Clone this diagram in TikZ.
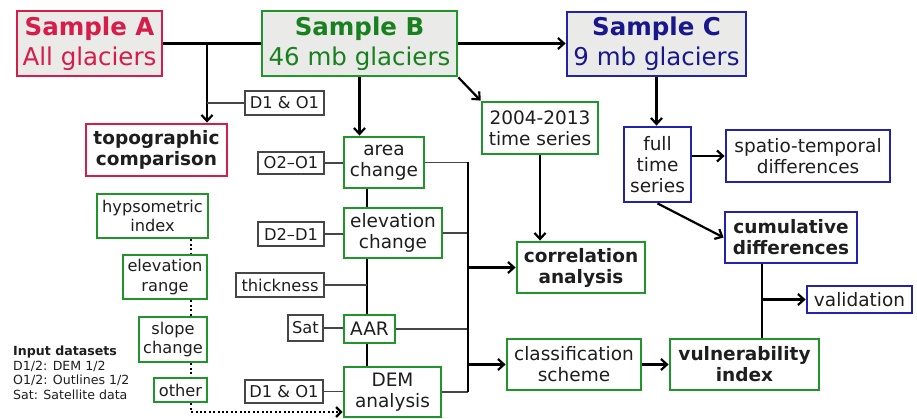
\documentclass[tikz,border=0pt]{standalone}
\usepackage{fontspec}
\setmainfont{DejaVu Sans}
\usetikzlibrary{arrows.meta}

\definecolor{sampred}{RGB}{214,28,72}
\definecolor{sampgreen}{RGB}{32,150,42}
\definecolor{sampgreentext}{RGB}{24,128,30}
\definecolor{sampblue}{RGB}{34,34,170}
\definecolor{sampbluetext}{RGB}{24,24,140}
\definecolor{titlegray}{RGB}{234,234,232}
\definecolor{datagray}{RGB}{70,70,70}
\definecolor{textgray}{RGB}{30,30,30}

\tikzset{
  box/.style={draw, line width=2.8pt, fill=white, inner sep=0pt, align=center,
    text=textgray, font=\fontsize{18.5}{21}\selectfont},
  redbox/.style={box, draw=sampred},
  greenbox/.style={box, draw=sampgreen},
  bluebox/.style={box, draw=sampblue},
  smallbox/.style={greenbox, font=\fontsize{16.2}{19.5}\selectfont},
  databox/.style={box, draw=datagray, line width=1.6pt, font=\fontsize{16.3}{19.5}\selectfont},
  titlebox/.style={fill=titlegray, font=\fontsize{24.5}{30}\selectfont},
  link/.style={line width=2.2pt, draw=black},
  thinlink/.style={line width=1.5pt, draw=datagray},
  arrow/.style={link, -{Straight Barb[length=6pt,width=11pt]}},
  dots/.style={line width=2.2pt, dash pattern=on 2pt off 2.4pt},
}

\begin{document}
\begin{tikzpicture}[x=1pt, y=-1pt]
    \useasboundingbox (0,0) rectangle (917,419);

    % the three samples
    \node[redbox, titlebox, text=sampred, minimum width=145pt, minimum height=65pt] (sampleA) at (89.5,43.5) {\textbf{Sample A}\\All glaciers};
    \node[greenbox, titlebox, text=sampgreentext, minimum width=195pt, minimum height=65pt] (sampleB) at (359.5,43.5) {\textbf{Sample B}\\46 mb glaciers};
    \node[bluebox, titlebox, text=sampbluetext, minimum width=179pt, minimum height=64pt] (sampleC) at (656.5,44) {\textbf{Sample C}\\9 mb glaciers};

    % sample A branch
    \node[redbox, minimum width=141pt, minimum height=52pt] (topo) at (156.5,150) {\textbf{topographic}\\\textbf{comparison}};
    \node[databox, minimum width=79pt, minimum height=24pt] (d1o1a) at (284.5,103) {D1 \& O1};

    % sample B parameters
    \node[greenbox, minimum width=80pt, minimum height=51pt] (area) at (384,162.5) {area\\change};
    \node[greenbox, minimum width=98pt, minimum height=50pt] (elev) at (393,233) {elevation\\change};
    \node[greenbox, minimum width=51pt, minimum height=28pt] (aar) at (369.5,329) {AAR};
    \node[greenbox, minimum width=97pt, minimum height=50pt] (dem) at (392.5,392) {DEM\\analysis};
    \node[greenbox, minimum width=116pt, minimum height=52pt] (ts0413) at (540,128) {2004-2013\\time series};

    % input data
    \node[databox, minimum width=66pt, minimum height=22pt] (o2o1) at (291,163) {O2–O1};
    \node[databox, minimum width=66pt, minimum height=24pt] (d2d1) at (291,234) {D2–D1};
    \node[databox, minimum width=88pt, minimum height=24pt] (thick) at (280,285) {thickness};
    \node[databox, minimum width=35pt, minimum height=26pt] (sat) at (305.5,328) {Sat};
    \node[databox, minimum width=78pt, minimum height=23pt] (d1o1b) at (284,391.5) {D1 \& O1};

    % DEM analysis outputs
    \node[smallbox, minimum width=111pt, minimum height=44pt] (hyps) at (152.5,216) {hypsometric\\index};
    \node[smallbox, minimum width=84pt, minimum height=44pt] (elrange) at (165,277) {elevation\\range};
    \node[smallbox, minimum width=68pt, minimum height=45pt] (slope) at (173,339.5) {slope\\change};
    \node[smallbox, minimum width=53pt, minimum height=24pt] (other) at (180.5,390) {other};

    % results
    \node[greenbox, minimum width=128pt, minimum height=51pt] (corr) at (581,267.5) {\textbf{correlation}\\\textbf{analysis}};
    \node[greenbox, minimum width=134pt, minimum height=51pt] (class) at (574,364.5) {classification\\scheme};
    \node[greenbox, minimum width=149pt, minimum height=51pt] (vuln) at (744.5,364.5) {\textbf{vulnerability}\\\textbf{index}};

    % sample C branch
    \node[bluebox, minimum width=67pt, minimum height=75pt] (fullts) at (657.5,164.5) {full\\time\\series};
    \node[bluebox, minimum width=164pt, minimum height=52pt] (spatio) at (808,156) {spatio-temporal\\differences};
    \node[bluebox, minimum width=132pt, minimum height=51pt] (cumul) at (791,237.5) {\textbf{cumulative}\\\textbf{differences}};
    \node[bluebox, minimum width=105pt, minimum height=27pt] (valid) at (859.5,299.5) {validation};

    % legend
    \node[anchor=north west, align=left, inner sep=0pt, text=textgray, font=\fontsize{12.6}{14.6}\selectfont] (legend) at (13,346) {\textbf{Input datasets}\\D1/2: DEM 1/2\\O1/2: Outlines 1/2\\Sat: Satellite data};

    % junctions
    \coordinate (jA) at (207,43.5);
    \coordinate (bus) at (468,162.5);
    \coordinate (jL) at (367,285);
    \coordinate (jC) at (762,299.5);
    \coordinate (jD) at (191,412);

    % sample connectors
    \draw[link] (sampleA) -- (sampleB);
    \draw[arrow] (jA) -- (jA |- topo.north);
    \draw[thinlink] (jA |- d1o1a) -- (d1o1a.west);
    \draw[arrow] (sampleB.east) -- (sampleB.east -| sampleC.west);
    \draw[arrow] (sampleB.south) -- (sampleB.south |- area.north);
    \draw[arrow] (sampleB.south east) -- (ts0413.north west);
    \draw[arrow] (ts0413.south) -- (ts0413.south |- corr.north);
    \draw[arrow] (sampleC.south) -- (sampleC.south |- fullts.north);
    \draw[arrow] (fullts.east |- spatio.west) -- (spatio.west);
    \draw[arrow] (fullts.south) -- (cumul.west);
    \draw[link] (jC |- cumul.south) -- (jC |- vuln.north);
    \draw[arrow] (jC) -- (valid.west);
    \draw[arrow] (class) -- (vuln);

    % parameter chain
    \draw[link] (jL |- area.south) -- (jL |- elev.north);
    \draw[link] (jL |- elev.south) -- (jL |- aar.north);
    \draw[link] (jL |- aar.south) -- (jL |- dem.north);
    \draw[thinlink] (thick.east) -- (jL);
    \draw[thinlink] (o2o1.east) -- (o2o1.east -| area.west);
    \draw[thinlink] (d2d1.east) -- (d2d1.east -| elev.west);
    \draw[thinlink] (sat.east) -- (sat.east -| aar.west);
    \draw[thinlink] (d1o1b.east) -- (d1o1b.east -| dem.west);

    % bus to the results
    \draw[thinlink] (area.east) -- (bus);
    \draw[thinlink] (elev.east) -- (bus |- elev.east);
    \draw[thinlink] (aar.east) -- (bus |- aar.east);
    \draw[thinlink] (dem.east) -- (bus |- dem.east);
    \draw[link] (bus) -- (bus |- dem.east);
    \draw[arrow] (bus |- corr.west) -- (corr.west);
    \draw[arrow] (bus |- class.west) -- (class.west);

    % dotted chain
    \draw[dots] (jD |- hyps.south) -- (jD |- elrange.north);
    \draw[dots] (jD |- elrange.south) -- (jD |- slope.north);
    \draw[dots] (jD |- slope.south) -- (jD |- other.north);
    \draw[dots, -{Straight Barb[length=5pt,width=10pt]}] (jD |- other.south) -- (jD) -- (jD -| dem.west);

\end{tikzpicture}
\end{document}
